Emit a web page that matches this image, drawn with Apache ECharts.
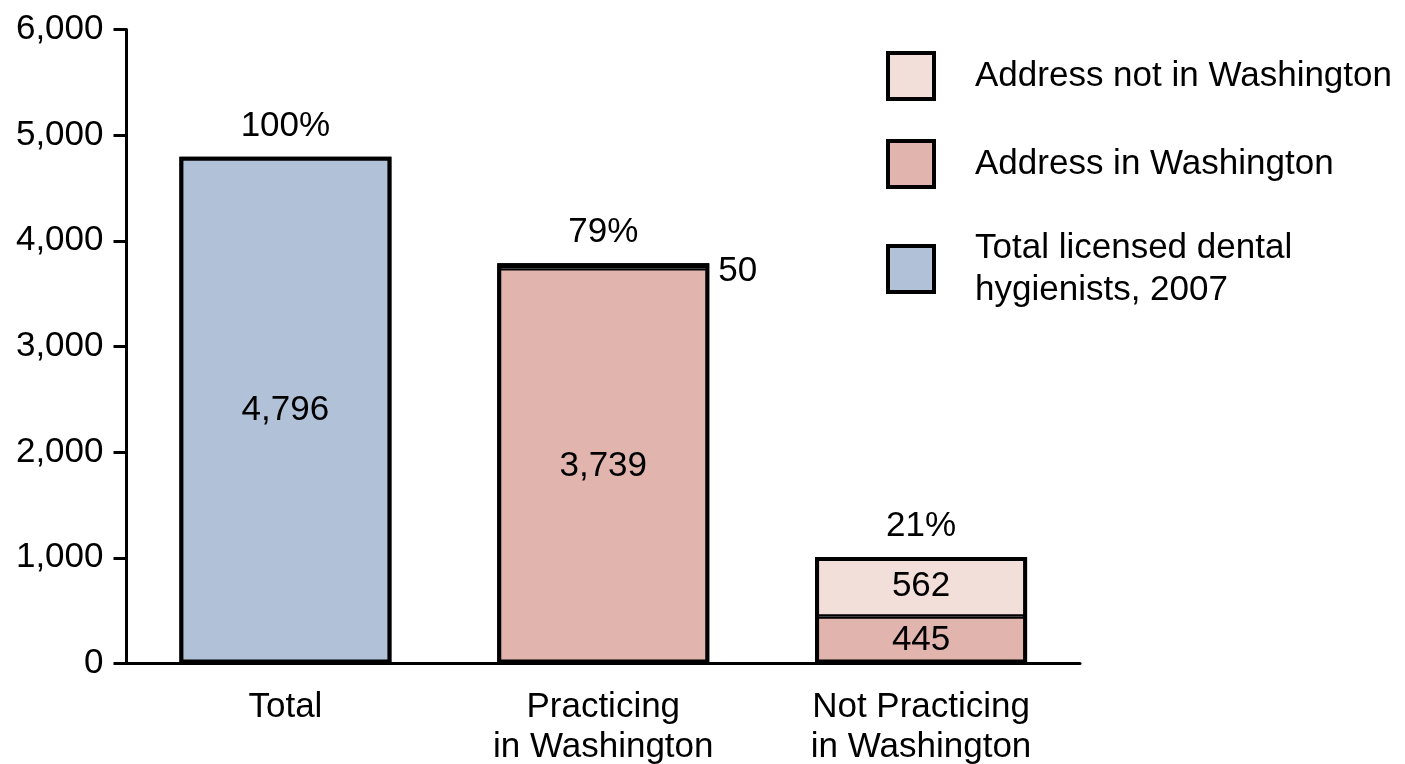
<!DOCTYPE html>
<html>
<head>
<meta charset="utf-8">
<script src="https://cdn.jsdelivr.net/npm/echarts@6/dist/echarts.min.js"></script>
<style>html,body{margin:0;padding:0;background:#fff;}#c{width:1405px;height:764px;}</style>
</head>
<body>
<div id="c"></div>
<script>
const categories = ['Total', 'Practicing\nin Washington', 'Not Practicing\nin Washington'];
const totalValues = [4796, '-', '-'];
const inWashington = ['-', 3739, 445];
const notInWashington = ['-', 50, 562];
const percentLabels = ['100%', '79%', '21%'];
const yTicks = [0, 1000, 2000, 3000, 4000, 5000, 6000];
const seriesNames = ['Address not in Washington', 'Address in Washington', 'Total licensed dental\nhygienists, 2007'];

const FONT = '"Liberation Sans", Arial, Helvetica, sans-serif';
const FS = 35;
const BW = 212;
const fmt = v => Number(v).toLocaleString('en-US');
const num = v => (v === '-' ? 0 : v);
const stackTotals = categories.map((c, i) => num(totalValues[i]) + num(inWashington[i]) + num(notInWashington[i]));

const chart = echarts.init(document.getElementById('c'), null, {renderer: 'canvas'});
const seg = {borderColor: '#000', borderWidth: 2.2};
const valLabel = {show: true, position: 'inside', color: '#000', fontFamily: FONT, fontSize: FS, formatter: p => fmt(p.value)};

chart.setOption({
  animation: false,
  textStyle: {fontFamily: FONT},
  grid: {left: 126.5, right: 325, top: 29.5, bottom: 100.5, containLabel: false, outerBoundsMode: 'none'},
  legend: {
    orient: 'vertical', left: 886, top: 51, padding: 0,
    icon: 'rect',
    itemWidth: 46, itemHeight: 46, itemGap: 38,
    data: seriesNames,
    itemStyle: {borderColor: '#000', borderWidth: 4},
    textStyle: {fontFamily: FONT, fontSize: FS, color: '#000', lineHeight: 42, padding: [0, 0, 0, 36]}
  },
  xAxis: {
    type: 'category', data: categories,
    axisLine: {lineStyle: {color: '#000', width: 3}},
    axisTick: {show: false},
    axisLabel: {color: '#000', fontFamily: FONT, fontSize: FS, lineHeight: 40, margin: 24, interval: 0}
  },
  yAxis: {
    type: 'value', min: yTicks[0], max: yTicks[yTicks.length - 1], interval: 1000,
    axisLine: {show: true, lineStyle: {color: '#000', width: 3}},
    axisTick: {show: true, length: 13, lineStyle: {color: '#000', width: 3}},
    splitLine: {show: false},
    axisLabel: {color: '#000', fontFamily: FONT, fontSize: FS, margin: 23, formatter: v => fmt(v)}
  },
  series: [
    {name: seriesNames[2], type: 'bar', stack: 's', barWidth: BW, data: totalValues,
     itemStyle: Object.assign({color: '#b1c1d8'}, seg), label: valLabel},
    {name: seriesNames[1], type: 'bar', stack: 's', barWidth: BW, data: inWashington,
     itemStyle: Object.assign({color: '#e1b4ae'}, seg), label: valLabel},
    {name: seriesNames[0], type: 'bar', stack: 's', barWidth: BW,
     data: notInWashington.map((v, i) => i === 1 ? {value: v, label: {position: 'right', distance: 9, offset: [0, 6]}} : v),
     itemStyle: Object.assign({color: '#f2dfda'}, seg), label: valLabel},
    {name: 'outline', type: 'bar', stack: 'o', barWidth: BW, barGap: '-100%', z: 5, data: stackTotals,
     itemStyle: {color: 'rgba(0,0,0,0)', borderColor: '#000', borderWidth: 4},
     label: {show: true, position: 'top', distance: 13, color: '#000', fontFamily: FONT, fontSize: FS,
             formatter: p => percentLabels[p.dataIndex]}}
  ]
});
</script>
</body>
</html>
